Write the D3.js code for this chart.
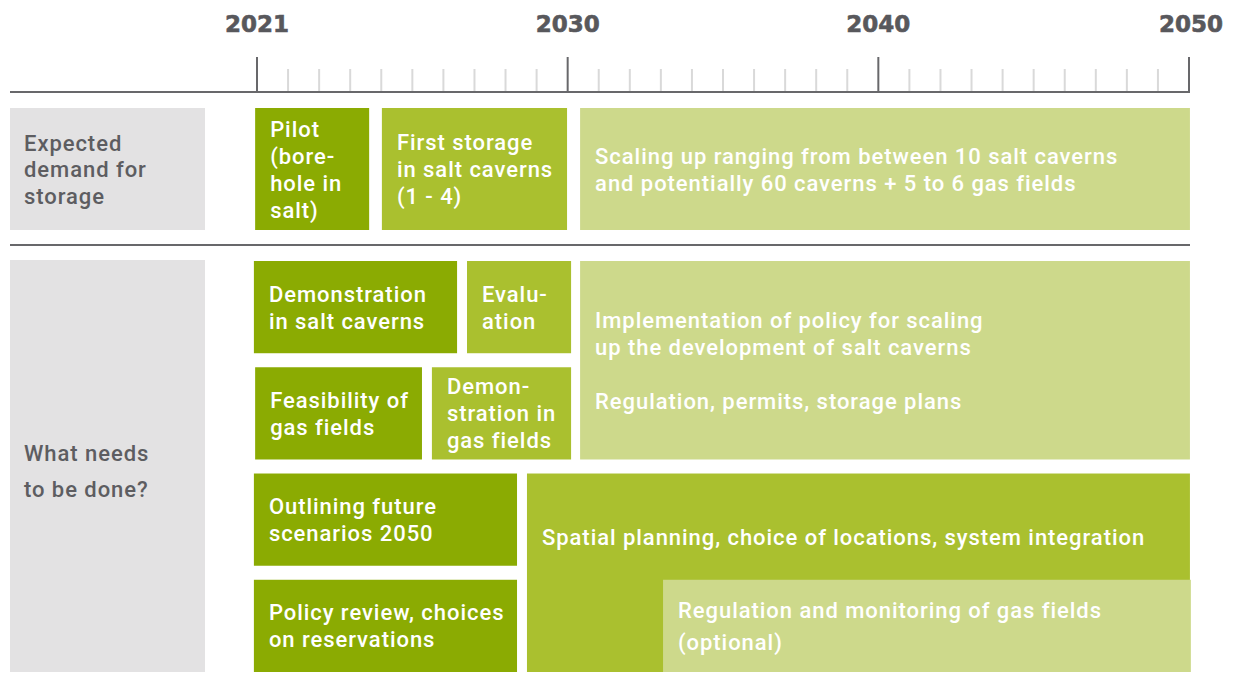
<!DOCTYPE html>
<html>
<head>
<meta charset="utf-8">
<script src="https://cdn.jsdelivr.net/npm/d3@7"></script>
<style>
  body { margin: 0; background: #fff; }
  svg text { font-family: Roboto, "Noto Sans", sans-serif; }
</style>
</head>
<body>
<div id="chart"></div>
<script>
// timeline ticks
var majorTicks = [2020, 2030, 2040, 2050];
var majorLabels = ["2021", "2030", "2040", "2050"];

// row headers
var sectionNames = ["demand", "action"];
var sectionLabels = [
  ["Expected", "demand for", "storage"],
  ["What needs", "to be done?"]
];

// blocks in the "expected demand" row
var demandBlocks = [
  { text: ["Pilot", "(bore-", "hole in", "salt)"], start: 2019.94, end: 2023.61, phase: 0 },
  { text: ["First storage", "in salt caverns", "(1 - 4)"], start: 2024.02, end: 2029.98, phase: 1 },
  { text: ["Scaling up ranging from between 10 salt caverns", "and potentially 60 caverns + 5 to 6 gas fields"], start: 2030.4, end: 2050.03, phase: 2 }
];

// blocks in the "what needs to be done" rows (lane = first lane, span = lanes covered)
var actionBlocks = [
  { text: ["Demonstration", "in salt caverns"], start: 2019.9, end: 2026.44, lane: 0, span: 1, phase: 0 },
  { text: ["Evalu-", "ation"], start: 2026.76, end: 2030.11, lane: 0, span: 1, phase: 1 },
  { text: ["Implementation of policy for scaling", "up the development of salt caverns", "", "Regulation, permits, storage plans"], start: 2030.4, end: 2050.03, lane: 0, span: 2, phase: 2 },
  { text: ["Feasibility of", "gas fields"], start: 2019.94, end: 2025.31, lane: 1, span: 1, phase: 0 },
  { text: ["Demon-", "stration in", "gas fields"], start: 2025.63, end: 2030.11, lane: 1, span: 1, phase: 1 },
  { text: ["Outlining future", "scenarios 2050"], start: 2019.9, end: 2028.37, lane: 2, span: 1, phase: 0 },
  { text: ["Policy review, choices", "on reservations"], start: 2019.9, end: 2028.37, lane: 3, span: 1, phase: 0 },
  { text: ["Spatial planning, choice of locations, system integration"], start: 2028.69, end: 2050.03, lane: 2, span: 2, phase: 1 },
  { text: ["Regulation and monitoring of gas fields", "(optional)"], start: 2033.07, end: 2050.06, lane: 3, span: 1, phase: 2 }
];

var W = 1233, H = 673;
var phaseColor = ["#8bab02", "#aac02f", "#cdd98b"];
var grey = "#e3e2e3", axisColor = "#68686b", labelColor = "#5d5d61";
var fontSize = "22px", tracking = "0.95px";

var svg = d3.select("#chart").append("svg")
  .attr("width", W)
  .attr("height", H);

var x = d3.scaleLinear()
  .domain([2020, 2050])
  .range([257, 1189]);

// vertical bands
var topRow = d3.scaleBand().domain(["demand"]).range([108, 230]);
var lanes = d3.scaleBand().domain(d3.range(4)).range([261, 672]).paddingInner(0.132);
var sectionBand = { demand: [108, 230], action: [260, 672] };

// ---- axis
var axisY = 92;
var axisG = svg.append("g").attr("transform", `translate(0, ${axisY})`);

var minor = d3.range(2020, 2051).filter(d => majorTicks.indexOf(d) < 0);
axisG.selectAll(".minor")
  .data(minor)
  .enter().append("line")
  .attr("x1", d => x(d)).attr("x2", d => x(d))
  .attr("y1", -23).attr("y2", 0)
  .attr("stroke", "#d9d9d9")
  .attr("stroke-width", 2);

axisG.append("line")
  .attr("x1", 10).attr("x2", x(2050) + 1)
  .attr("y1", 0).attr("y2", 0)
  .attr("stroke", axisColor)
  .attr("stroke-width", 2);

axisG.selectAll(".major")
  .data(majorTicks)
  .enter().append("line")
  .attr("x1", d => x(d)).attr("x2", d => x(d))
  .attr("y1", -35).attr("y2", 0)
  .attr("stroke", axisColor)
  .attr("stroke-width", 2);

axisG.selectAll(".yearLabel")
  .data(majorTicks)
  .enter().append("text")
  .attr("x", (d, i) => x(d) + (i == 3 ? 2 : 0))
  .attr("y", -60)
  .attr("text-anchor", "middle")
  .style("font-family", "'DejaVu Sans', sans-serif")
  .style("font-weight", "bold")
  .style("font-size", "23px")
  .attr("fill", "#58585c")
  .attr("stroke", "#58585c")
  .attr("stroke-width", 0.6)
  .text((d, i) => majorLabels[i]);

// ---- divider between the two sections
svg.append("line")
  .attr("x1", 10).attr("x2", x(2050) + 1)
  .attr("y1", 245).attr("y2", 245)
  .attr("stroke", axisColor)
  .attr("stroke-width", 2);

// ---- row headers
sectionNames.forEach(function(name, i) {
  var b = sectionBand[name];
  svg.append("rect")
    .attr("x", 10).attr("y", b[0])
    .attr("width", 195).attr("height", b[1] - b[0])
    .attr("fill", grey);

  var lh = i == 0 ? 26.5 : 36;
  var lines = sectionLabels[i];
  var cy = (b[0] + b[1]) / 2 + (i == 0 ? 0 : 5);
  svg.append("g").selectAll("text")
    .data(lines)
    .enter().append("text")
    .attr("x", 24)
    .attr("y", (d, j) => cy + (j - (lines.length - 1) / 2) * lh + 8)
    .attr("fill", labelColor)
    .style("font-size", fontSize)
    .style("font-weight", 500)
    .style("letter-spacing", tracking)
    .text(d => d);
});

// ---- blocks
function drawBlocks(data, yTop, yBottom, cls) {
  var g = svg.selectAll("." + cls)
    .data(data)
    .enter().append("g")
    .attr("class", cls);

  g.append("rect")
    .attr("x", d => x(d.start))
    .attr("y", yTop)
    .attr("width", d => x(d.end) - x(d.start))
    .attr("height", d => yBottom(d) - yTop(d))
    .attr("fill", d => phaseColor[d.phase]);

  g.each(function(d) {
    var lines = d.text;
    var lh = cls == "act" && d.lane == 3 && d.phase == 2 ? 32 : 27;
    var cy = (yTop(d) + yBottom(d)) / 2;
    if (cls == "act" && d.span == 2 && d.lane == 2) cy = 537; // text sits above the overlapping block
    d3.select(this).selectAll("text")
      .data(lines)
      .enter().append("text")
      .attr("x", x(d.start) + 15)
      .attr("y", (t, j) => cy + (j - (lines.length - 1) / 2) * lh + 8)
      .attr("fill", "#fff")
      .style("font-size", fontSize)
      .style("font-weight", 500)
      .style("letter-spacing", tracking)
      .text(t => t);
  });
}

drawBlocks(demandBlocks,
  d => topRow("demand"),
  d => topRow("demand") + topRow.bandwidth(),
  "dem");

drawBlocks(actionBlocks,
  d => lanes(d.lane),
  d => lanes(d.lane + d.span - 1) + lanes.bandwidth(),
  "act");
</script>
</body>
</html>
